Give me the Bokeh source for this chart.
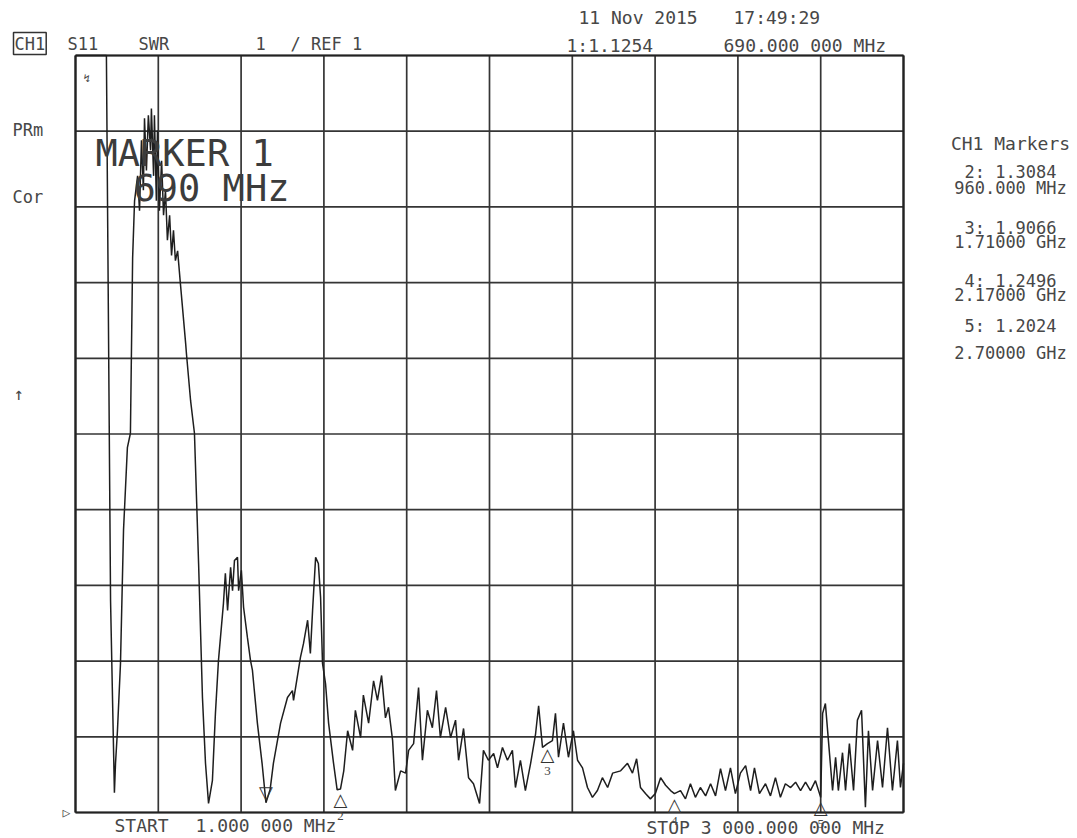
from bokeh.plotting import figure
from bokeh.models import Range1d, Label, LabelSet, ColumnDataSource
from bokeh.core.properties import value
from bokeh.embed import file_html
from bokeh.resources import INLINE

# ---------------- data ----------------
freq_mhz = [
    1, 112, 127, 141, 145, 152, 163, 174, 188, 199,
    207, 214, 225, 232, 239, 246, 250, 257, 264, 272, 275, 283, 286, 293, 297, 304, 312, 319, 326, 333,
    341, 348, 355, 362, 370, 380,
    399, 402, 417, 431, 446, 460, 471, 482,
    496, 507, 518, 536, 543, 551, 562, 569, 576, 587, 591, 601, 609, 623, 634, 641, 659, 676, 690, 705,
    717, 743, 768, 786, 790, 815, 826, 841, 851, 859, 870, 880, 888, 895, 906, 917, 935, 948, 960, 972,
    986, 1004, 1014, 1033, 1043, 1062, 1080, 1094, 1109, 1123,
    1134, 1149, 1159, 1178, 1196, 1207, 1225, 1243, 1257, 1275,
    1293, 1308, 1322, 1341, 1359, 1377, 1388, 1406, 1424, 1442,
    1464, 1478, 1496, 1515, 1529, 1547, 1565, 1583, 1594, 1612,
    1630, 1649, 1667, 1678, 1692, 1710, 1728, 1739, 1750, 1768,
    1786, 1804, 1819, 1837, 1855, 1873, 1891, 1909, 1928, 1946,
    1975, 2000, 2018, 2033, 2047, 2065, 2083, 2101, 2120, 2138,
    2156, 2170, 2192, 2210, 2228, 2246, 2264, 2283, 2301, 2319,
    2337, 2355, 2373, 2391, 2409, 2428, 2446, 2460, 2478, 2500,
    2518, 2536, 2554, 2572, 2591, 2609, 2627, 2645, 2663, 2681, 2700,
    2707, 2717, 2728, 2743, 2754, 2764, 2779, 2790, 2804, 2819,
    2833, 2848, 2862, 2873, 2888, 2906, 2924, 2942, 2960, 2978, 2989, 3000,
]
swr = [
    11.0, 11.0, 3.80, 1.26, 1.65, 2.08, 2.97, 4.73, 5.82, 6.01,
    8.33, 9.08, 9.41, 8.95, 9.88, 9.22, 10.17, 9.48, 10.21, 9.75, 10.30, 9.41, 10.21, 9.08, 10.01, 8.95,
    9.61, 8.89, 9.22, 8.56, 8.89, 8.36, 8.69, 8.29, 8.42, 7.99,
    7.20, 7.06, 6.44, 6.01, 4.29, 2.52, 1.65, 1.12,
    1.42, 2.31, 3.01, 3.76, 4.16, 3.67, 4.24, 3.93, 4.33, 4.37, 3.93, 4.20, 3.71, 3.31, 3.01, 2.88, 2.18, 1.65, 1.13, 1.30,
    1.65, 2.18, 2.52, 2.61, 2.48, 3.05, 3.23, 3.54, 3.10, 3.67, 4.37, 4.29, 3.84, 2.97, 2.70, 2.18, 1.65, 1.30, 1.31, 1.55,
    2.08, 1.82, 2.35, 1.99, 2.55, 2.18, 2.74, 2.48, 2.81, 2.25,
    2.39, 1.95, 1.29, 1.55, 1.52, 1.82, 1.91, 2.65, 1.69, 2.35,
    2.12, 2.61, 1.99, 2.39, 1.99, 2.22, 1.69, 2.11, 1.46, 1.38,
    1.12, 1.82, 1.69, 1.78, 1.59, 1.86, 1.69, 1.82, 1.33, 1.69,
    1.29, 1.65, 2.04, 2.41, 1.86, 1.91, 1.95, 2.31, 1.73, 2.18,
    1.73, 2.08, 1.69, 1.59, 1.33, 1.20, 1.29, 1.46, 1.33, 1.52,
    1.55, 1.65, 1.52, 1.71, 1.33, 1.25, 1.18, 1.25, 1.46, 1.36,
    1.29, 1.25, 1.29, 1.18, 1.38, 1.20, 1.33, 1.22, 1.38, 1.22,
    1.58, 1.29, 1.59, 1.25, 1.52, 1.62, 1.29, 1.59, 1.25, 1.38,
    1.22, 1.46, 1.20, 1.38, 1.33, 1.40, 1.29, 1.40, 1.29, 1.42, 1.20,
    2.31, 2.44, 1.95, 1.29, 1.73, 1.29, 1.79, 1.29, 1.91, 1.29,
    2.22, 2.35, 1.07, 2.08, 1.29, 1.95, 1.33, 2.12, 1.29, 1.95, 1.33, 1.65,
]
assert len(freq_mhz) == len(swr)

marker_ids = ["1", "2", "3", "4", "5"]
marker_freq = [690, 960, 1710, 2170, 2700]
marker_swr = [1.1254, 1.3084, 1.9066, 1.2496, 1.2024]

x_grid_ticks = [0, 300, 600, 900, 1200, 1500, 1800, 2100, 2400, 2700, 3000]
y_grid_ticks = [1, 2, 3, 4, 5, 6, 7, 8, 9, 10, 11]

start_label = "1.000 000 MHz"
stop_label = "STOP 3 000.000 000 MHz"

# ---------------- layout: the whole canvas is the frame ----------------
W, H = 1077, 838
# graticule position on the canvas (pixels)
GX0, GX1, GY0, GY1 = 75, 903, 55, 812
XMIN, XMAX = x_grid_ticks[0], x_grid_ticks[-1]
YMIN, YMAX = y_grid_ticks[0], y_grid_ticks[-1]
sx = (XMAX - XMIN) / (GX1 - GX0)
sy = (YMAX - YMIN) / (GY1 - GY0)


def fx(px):
    return XMIN + (px - GX0) * sx


def fy(py):
    return YMIN + (GY1 - py) * sy


p = figure(width=W, height=H, x_range=Range1d(fx(0), fx(W)), y_range=Range1d(fy(H), fy(0)),
           output_backend="svg", toolbar_location=None,
           x_axis_location=None, y_axis_location=None,
           min_border=0, min_border_left=0, min_border_right=0,
           min_border_top=0, min_border_bottom=0,
           background_fill_color="white", border_fill_color="white",
           outline_line_color=None)
for g in list(p.grid):
    g.visible = False

# graticule drawn from the grid tick arrays
nx, ny = len(x_grid_ticks), len(y_grid_ticks)
p.segment(x0=x_grid_ticks, y0=[YMIN] * nx, x1=x_grid_ticks, y1=[YMAX] * nx,
          line_color="#353535", line_width=1.7)
p.segment(x0=[XMIN] * ny, y0=y_grid_ticks, x1=[XMAX] * ny, y1=y_grid_ticks,
          line_color="#353535", line_width=1.7)
# heavier border (outermost ticks)
p.segment(x0=[XMIN, XMAX, XMIN, XMIN], y0=[YMIN, YMIN, YMIN, YMAX],
          x1=[XMIN, XMAX, XMAX, XMAX], y1=[YMAX, YMAX, YMIN, YMAX],
          line_color="#222222", line_width=2.2)

p.line(freq_mhz, swr, line_color="#1e1e1e", line_width=1.5)

# marker symbols
p.text(x=marker_freq[1:], y=marker_swr[1:], text=["△"] * 4, text_align="center",
       text_baseline="top", text_font=value("DejaVu Sans"), text_font_size="18px",
       text_color="#333333")
p.text(x=marker_freq[:1], y=marker_swr[:1], text=["▽"], text_align="center",
       text_baseline="bottom", text_font=value("DejaVu Sans"), text_font_size="18px",
       text_color="#333333")
p.add_layout(LabelSet(x="x", y="y", text="t",
                      source=ColumnDataSource(dict(x=marker_freq[1:], y=marker_swr[1:],
                                                   t=marker_ids[1:])),
                      y_offset=-27, text_align="center", text_baseline="middle",
                      text_font="DejaVu Sans Mono", text_font_size="13px", text_color="#444444"))


def lab(px, py, text, size="18px", align="left", color="#474747", **kw):
    p.add_layout(Label(x=fx(px), y=fy(py), text=text, text_align=align,
                       text_baseline="middle", text_font="DejaVu Sans Mono",
                       text_font_size=size, text_color=color, **kw))


lab(13, 43, "CH1", size="17px", border_line_color="#333333", border_line_width=1.5, padding=1)
lab(67, 43, "S11", size="17px")
lab(138, 43, "SWR", size="17px")
lab(255, 43, "1", size="17px")
lab(290, 43, "/ REF 1", size="17px")
lab(578, 17, "11 Nov 2015")
lab(733, 17, "17:49:29")
lab(566, 45, f"{marker_ids[0]}:{marker_swr[0]:.4f}")
lab(723, 45, f"{marker_freq[0]:.3f} 000 MHz")
lab(12, 129, "PRm", size="17px")
lab(12, 196, "Cor", size="17px")
lab(13, 393, "↑", size="17px")
lab(83, 78, "↯", size="11px")
lab(62, 812, "▷", size="13px")

# big marker annotation
lab(95, 153, f"MARKER {marker_ids[0]}", size="37px", color="#3c3c3c")
lab(133, 188, f"{marker_freq[0]} MHz", size="37px", color="#3c3c3c")

# right marker panel
lab(1010, 143, "CH1 Markers", align="center")
panel_y = [(171, 187), (227, 241), (280, 294), (325, 352)]
for (ya, yb), mid, f, s in zip(panel_y, marker_ids[1:], marker_freq[1:], marker_swr[1:]):
    fstr = f"{f:.3f} MHz" if f < 1000 else f"{f / 1000:.5f} GHz"
    lab(1010, ya, f"{mid}: {s:.4f}", align="center", size="17px")
    lab(1010, yb, fstr, align="center", size="17px")

# bottom start/stop
lab(114, 825, "START")
lab(195, 825, start_label)
lab(646, 827, stop_label)

open("out.html", "w").write(file_html(p, INLINE))
